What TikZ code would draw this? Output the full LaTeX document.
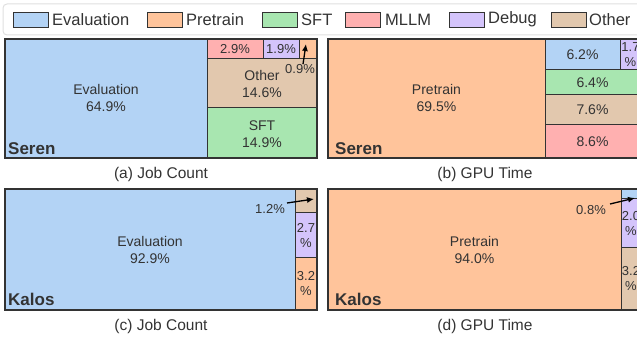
\documentclass[tikz,border=0pt]{standalone}
\usepackage{fontspec}
\setmainfont{Liberation Sans}
\usetikzlibrary{arrows.meta}
\definecolor{ceval}{RGB}{179,211,245}
\definecolor{cpre}{RGB}{255,196,155}
\definecolor{csft}{RGB}{168,230,176}
\definecolor{cmllm}{RGB}{255,176,176}
\definecolor{cdbg}{RGB}{212,196,251}
\definecolor{coth}{RGB}{226,200,174}
\definecolor{edge}{RGB}{51,51,51}
\definecolor{txt}{RGB}{51,51,51}
\begin{document}
\begin{tikzpicture}[x=1pt,y=-1pt,
 cellbox/.style={draw=edge,line width=1pt},
 panelframe/.style={draw=edge,line width=1.5pt},
 lbl/.style={text=txt,font=\fontsize{14}{17}\selectfont,align=center,inner sep=0pt},
 slbl/.style={text=txt,font=\fontsize{13}{15}\selectfont,align=center,inner sep=0pt},
 sys/.style={text=txt,font=\fontsize{17}{20}\selectfont\bfseries,anchor=base west,inner sep=0pt},
 captext/.style={text=txt,font=\fontsize{15.5}{18}\selectfont,inner sep=0pt},
 legtext/.style={text=txt,font=\fontsize{16.5}{19}\selectfont,anchor=west,inner sep=0pt},
 patch/.style={draw=edge,line width=0.8pt,minimum width=35pt,minimum height=15pt,inner sep=0pt},
 ptr/.style={-{Latex[length=7pt,width=6pt]},line width=1.3pt,black}]
\useasboundingbox (0,0) rectangle (637,339);
\clip (0,0) rectangle (637,339);
% legend
\draw[gray!25,line width=1pt,rounded corners=4pt] (3,4) rectangle (660,35);
\node[patch,fill=ceval] (pe) at (30.5,19.5) {};
\node[legtext] (le) at (52,19.5) {Evaluation};
\node[patch,fill=cpre] (pp) at (164.5,19.5) {};
\node[legtext] (lp) at (186,19.5) {Pretrain};
\node[patch,fill=csft] (ps) at (280,19.5) {};
\node[legtext] (ls) at (301,19.5) {SFT};
\node[patch,fill=cmllm] (pm) at (363,19.5) {};
\node[legtext] (lm) at (385,19.5) {MLLM};
\node[patch,fill=cdbg] (pd) at (466.5,19.5) {};
\node[legtext] (ld) at (488,19.5) {Debug};
\node[patch,fill=coth] (po) at (568.5,19.5) {};
\node[legtext] (lo) at (589,19.5) {Other};
% (a)
\draw[cellbox,fill=ceval] (5,39) rectangle (207.5,158);
\draw[cellbox,fill=cmllm] (207.5,39) rectangle (263,59);
\draw[cellbox,fill=cdbg] (263,39) rectangle (299.5,59);
\draw[cellbox,fill=cpre] (299.5,39) rectangle (317,59);
\draw[cellbox,fill=coth] (207.5,59) rectangle (317,108);
\draw[cellbox,fill=csft] (207.5,108) rectangle (317,158);
\draw[panelframe] (5,39) rectangle (317,158);
\node[lbl] (aeval) at (106,98) {Evaluation\\64.9\%};
\node[slbl] (amllm) at (235,49) {2.9\%};
\node[slbl] (adbg) at (281,49) {1.9\%};
\node[lbl] (aoth) at (262,84) {Other\\14.6\%};
\node[lbl] (asft) at (262,134) {SFT\\14.9\%};
\node[slbl] (apl) at (300,69) {0.9\%};
\coordinate (apre) at (306,44);
\draw[ptr] ([xshift=3pt]apl.north) -- (apre);
\node[sys] (aseren) at (8,155) {Seren};
\node[captext] (capa) at (161,174) {(a) Job Count};
% (b)
\draw[cellbox,fill=cpre] (328,39) rectangle (545,158);
\draw[cellbox,fill=ceval] (545,39) rectangle (620,70);
\draw[cellbox,fill=cdbg] (620,39) rectangle (640,70);
\draw[cellbox,fill=csft] (545,70) rectangle (640,95);
\draw[cellbox,fill=coth] (545,95) rectangle (640,125);
\draw[cellbox,fill=cmllm] (545,125) rectangle (640,158);
\draw[panelframe] (328,39) rectangle (640,158);
\node[lbl] (bpre) at (436.5,98) {Pretrain\\69.5\%};
\node[lbl] (beval) at (582.5,55) {6.2\%};
\node[slbl] (bdbg) at (630.5,55) {1.7\\\%};
\node[lbl] (bsft) at (592.5,82.5) {6.4\%};
\node[lbl] (both) at (592.5,110) {7.6\%};
\node[lbl] (bmllm) at (592.5,141.5) {8.6\%};
\node[sys] (bseren) at (335,155) {Seren};
\node[captext] (capb) at (485,174) {(b) GPU Time};
% (c)
\draw[cellbox,fill=ceval] (5,189) rectangle (295,310);
\draw[cellbox,fill=coth] (295,189) rectangle (317,213);
\draw[cellbox,fill=cdbg] (295,213) rectangle (317,257);
\draw[cellbox,fill=cpre] (295,257) rectangle (317,310);
\draw[panelframe] (5,189) rectangle (317,310);
\node[lbl] (ceval) at (150,249.5) {Evaluation\\92.9\%};
\node[slbl] (cdbg) at (306,235) {2.7\\\%};
\node[slbl] (cpre) at (306,283.5) {3.2\\\%};
\node[slbl] (col) at (270,209) {1.2\%};
\coordinate (coth) at (314,199);
\draw[ptr] ([xshift=2pt,yshift=6pt]col.east) -- (coth);
\node[sys] (ckalos) at (8,305) {Kalos};
\node[captext] (capc) at (161,326) {(c) Job Count};
% (d)
\draw[cellbox,fill=cpre] (328,189) rectangle (621,310);
\draw[cellbox,fill=ceval] (621,189) rectangle (640,199);
\draw[cellbox,fill=cdbg] (621,199) rectangle (640,247);
\draw[cellbox,fill=coth] (621,247) rectangle (640,310);
\draw[panelframe] (328,189) rectangle (640,310);
\node[lbl] (dpre) at (474.5,249.5) {Pretrain\\94.0\%};
\node[slbl] (ddbg) at (631,223) {2.0\\\%};
\node[slbl] (doth) at (631,278.5) {3.2\\\%};
\node[slbl] (del) at (591,210) {0.8\%};
\coordinate (deval) at (635,198);
\draw[ptr] ([xshift=4pt,yshift=6pt]del.east) -- (deval);
\node[sys] (dkalos) at (335,305) {Kalos};
\node[captext] (capd) at (485,326) {(d) GPU Time};
\end{tikzpicture}
\end{document}
